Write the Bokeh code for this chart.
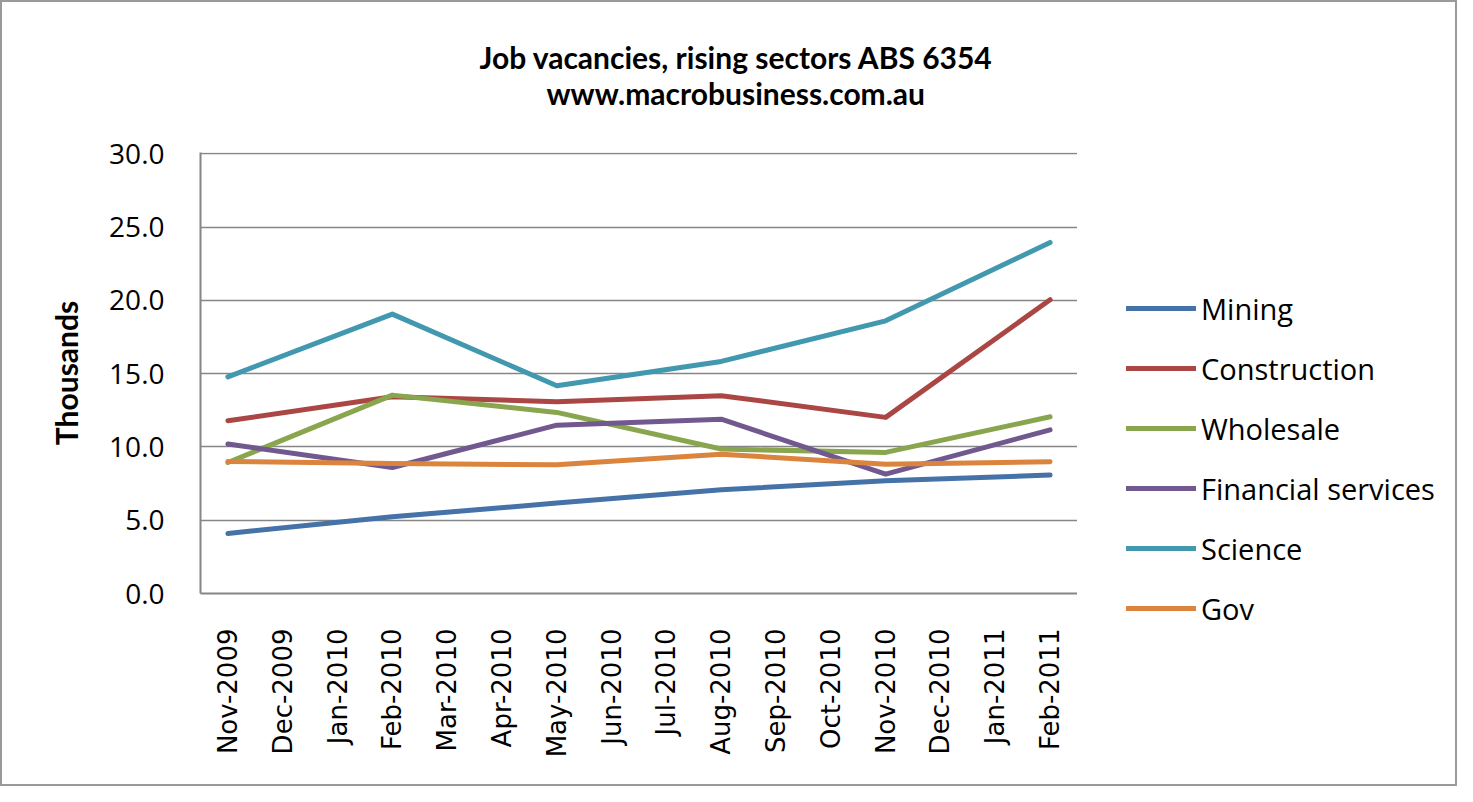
import numpy as np
from bokeh.plotting import figure
from bokeh.layouts import row
from bokeh.models import (Legend, LegendItem, Title, FactorRange, Range1d,
                          FixedTicker, NumeralTickFormatter, InlineStyleSheet)
from bokeh.embed import file_html
from bokeh.resources import INLINE

# ---- data ----
months = ["Nov-2009", "Dec-2009", "Jan-2010", "Feb-2010", "Mar-2010", "Apr-2010",
          "May-2010", "Jun-2010", "Jul-2010", "Aug-2010", "Sep-2010", "Oct-2010",
          "Nov-2010", "Dec-2010", "Jan-2011", "Feb-2011"]
quarters = ["Nov-2009", "Feb-2010", "May-2010", "Aug-2010", "Nov-2010", "Feb-2011"]
mining = [4.1, 5.24, 6.17, 7.08, 7.69, 8.08]
construction = [11.79, 13.43, 13.09, 13.5, 12.02, 20.05]
wholesale = [8.94, 13.54, 12.36, 9.86, 9.63, 12.06]
financial = [10.2, 8.6, 11.49, 11.9, 8.15, 11.17]
science = [14.79, 19.07, 14.18, 15.84, 18.61, 23.96]
gov = [9.01, 8.87, 8.78, 9.51, 8.83, 8.99]
series_names = ["Mining", "Construction", "Wholesale", "Financial services", "Science", "Gov"]
series_values = [mining, construction, wholesale, financial, science, gov]
colors = ["#4572A7", "#AA4643", "#89A54E", "#71588F", "#4198AF", "#DB843D"]
y_ticks = [0, 5, 10, 15, 20, 25, 30]
title_lines = ["Job vacancies, rising sectors ABS 6354", "www.macrobusiness.com.au"]

H = 782
FL, FT, FW, FH = 198, 150, 877, 441
LW = 378  # legend panel width
p = figure(width=FL + FW, height=H, x_range=FactorRange(*months), y_range=Range1d(0, 30.1),
           output_backend="svg", toolbar_location=None,
           min_border_left=FL, min_border_right=0,
           min_border_top=FT, min_border_bottom=H - FT - FH)
p.outline_line_color = None
p.background_fill_color = "white"
p.border_fill_color = "white"

grey = "#868686"
# y axis
p.yaxis.ticker = FixedTicker(ticks=y_ticks)
p.yaxis.formatter = NumeralTickFormatter(format="0.0")
p.yaxis.major_tick_line_color = None
p.yaxis.minor_tick_line_color = None
p.yaxis.axis_line_color = grey
p.yaxis.axis_line_width = 2
p.yaxis.major_label_text_font = "Open Sans"
p.yaxis.major_label_text_font_size = "28px"
p.yaxis.major_label_text_color = "black"
p.yaxis.major_label_standoff = 30
p.yaxis.axis_label = "Thousands"
p.yaxis.axis_label_text_font = "Lato"
p.yaxis.axis_label_text_font_style = "bold"
p.yaxis.axis_label_text_font_size = "30px"
p.yaxis.axis_label_text_color = "black"
p.yaxis.axis_label_standoff = 22

# x axis
p.xaxis.major_label_orientation = np.pi / 2
p.xaxis.major_tick_line_color = None
p.xaxis.minor_tick_line_color = None
p.xaxis.axis_line_color = grey
p.xaxis.axis_line_width = 2
p.xaxis.major_label_text_font = "DejaVu Sans"
p.xaxis.major_label_text_font_size = "26px"
p.xaxis.major_label_text_color = "black"
p.xaxis.major_label_standoff = 29

p.xgrid.grid_line_color = None
p.ygrid.ticker = FixedTicker(ticks=y_ticks)
p.ygrid.grid_line_color = grey
p.ygrid.grid_line_width = 1.6

for name, vals, c in zip(series_names, series_values, colors):
    p.line(quarters, vals, line_color=c, line_width=5, line_cap="round", line_join="round")

# titles: second line closest to the frame, first line above it
p.add_layout(Title(text=title_lines[1], align="left", offset=346, standoff=84,
                   text_font="Lato", text_font_style="bold", text_font_size="30px",
                   text_color="black"), "above")
p.add_layout(Title(text=title_lines[0], align="left", offset=279, standoff=-88,
                   text_font="Lato", text_font_style="bold", text_font_size="30px",
                   text_color="black"), "above")

# ---- legend panel (right of the plot area) ----
lf = figure(width=LW, height=H, x_range=Range1d(0, 1), y_range=Range1d(0, 1),
            output_backend="svg", toolbar_location=None, min_border=0)
lf.frame_align = False
lf.axis.visible = False
lf.grid.grid_line_color = None
lf.outline_line_color = None
lf.background_fill_color = "white"
lf.border_fill_color = "white"
items = []
for name, vals, c in zip(series_names, series_values, colors):
    # proxy renderer: same series, lies outside this panel's visible range
    r = lf.line(list(range(len(vals))), vals, line_color=c, line_width=5, line_cap="round")
    items.append(LegendItem(label=name, renderers=[r]))
legend = Legend(items=items, location=(49, 156), orientation="vertical",
                glyph_width=70, glyph_height=40, label_height=40, spacing=20,
                label_standoff=5, padding=0, margin=0,
                border_line_color=None, background_fill_alpha=0,
                label_text_font="Open Sans", label_text_font_size="29px",
                label_text_color="black")
lf.add_layout(legend, "center")

layout = row(p, lf, spacing=0)
layout.stylesheets = [InlineStyleSheet(css=":host { border: 2px solid #9a9a9a; }")]

open("out.html", "w").write(file_html(layout, INLINE))
